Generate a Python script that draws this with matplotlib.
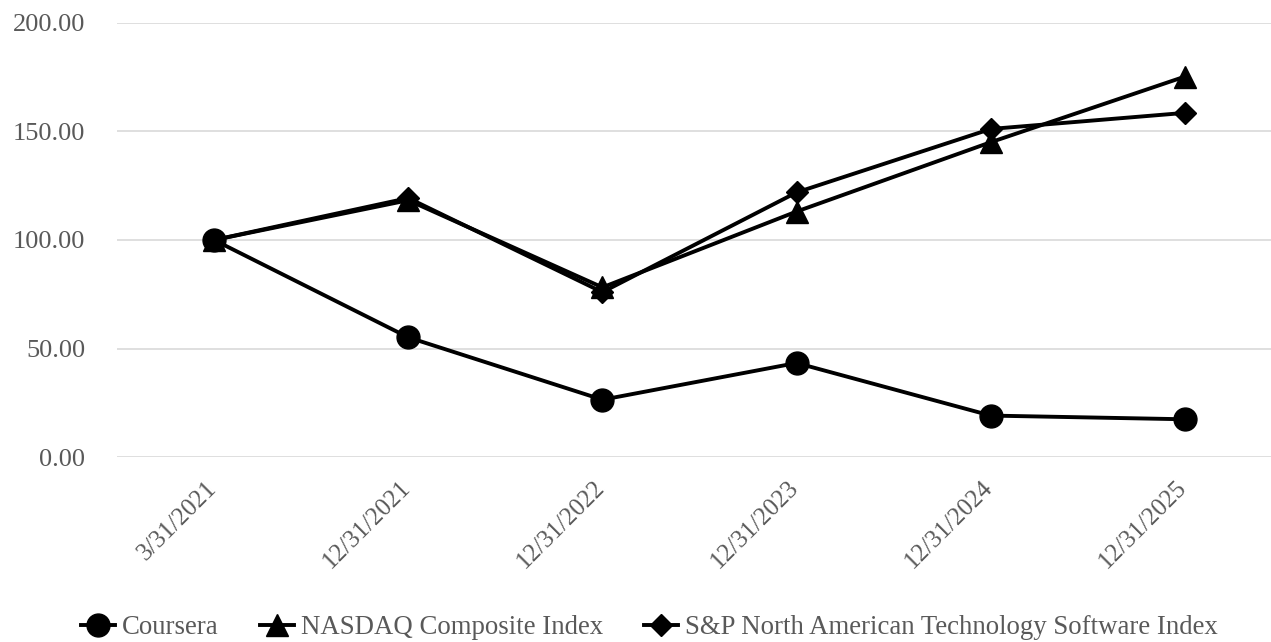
import matplotlib
matplotlib.use("Agg")
import matplotlib.pyplot as plt
from matplotlib.lines import Line2D
from matplotlib.transforms import ScaledTranslation

categories = ["3/31/2021", "12/31/2021", "12/31/2022", "12/31/2023", "12/31/2024", "12/31/2025"]
coursera = [100.00, 55.2, 26.5, 43.4, 19.2, 17.5]
nasdaq = [100.00, 118.3, 78.2, 113.1, 145.0, 175.2]
sp_software = [100.00, 119.3, 76.0, 121.9, 151.1, 158.5]
series_names = ["Coursera", "NASDAQ Composite Index", "S&P North American Technology Software Index"]
y_ticks = [0, 50, 100, 150, 200]

plt.rcParams['font.family'] = ['Liberation Serif', 'DejaVu Serif']

fig = plt.figure(figsize=(12.71, 6.42), dpi=100)
left = 117 / 1271
right = 1282 / 1271
bottom = (642 - 457.3) / 642
top = (642 - 22.7) / 642
ax = fig.add_axes([left, bottom, right - left, top - bottom])

x = list(range(len(categories)))
lw = 2.8
ax.plot(x, coursera, color='black', lw=lw, marker='o', ms=16.5, zorder=5)
ax.plot(x, nasdaq, color='black', lw=lw, marker='^', ms=16, zorder=4)
ax.plot(x, sp_software, color='black', lw=lw, marker='D', ms=11.5, zorder=3)

ax.set_xlim(-0.5, len(categories) - 0.5)
ax.set_ylim(0, 200)
ax.set_yticks(y_ticks)
ax.set_yticklabels([f"{v:.2f}" for v in y_ticks])
ax.set_xticks(x)
ax.set_xticklabels(categories, rotation=45, ha='right', va='top', rotation_mode='anchor')
ax.grid(axis='y', color='#d9d9d9', lw=1.2)
ax.set_axisbelow(True)
for s in ax.spines.values():
    s.set_visible(False)
ax.tick_params(axis='y', length=0, labelsize=19, labelcolor='#595959', pad=23)
ax.tick_params(axis='x', length=0, labelsize=18, labelcolor='#595959', pad=14)

handles = [
    Line2D([], [], color='black', lw=lw, marker='o', ms=16.5),
    Line2D([], [], color='black', lw=lw, marker='^', ms=16),
    Line2D([], [], color='black', lw=lw, marker='D', ms=11.5),
]
leg = fig.legend(handles, series_names, loc='center', bbox_to_anchor=(0.511, (642 - 628) / 642),
                 ncol=3, frameon=False, fontsize=19.3, handlelength=1.27, handletextpad=0.26,
                 columnspacing=1.53, borderaxespad=0, borderpad=0)
for t in leg.get_texts():
    t.set_color('#595959')

offset = ScaledTranslation(-9 / 100, 0, fig.dpi_scale_trans)
for lab in ax.get_xticklabels():
    lab.set_transform(lab.get_transform() + offset)

fig.savefig("out.png", dpi=100)
